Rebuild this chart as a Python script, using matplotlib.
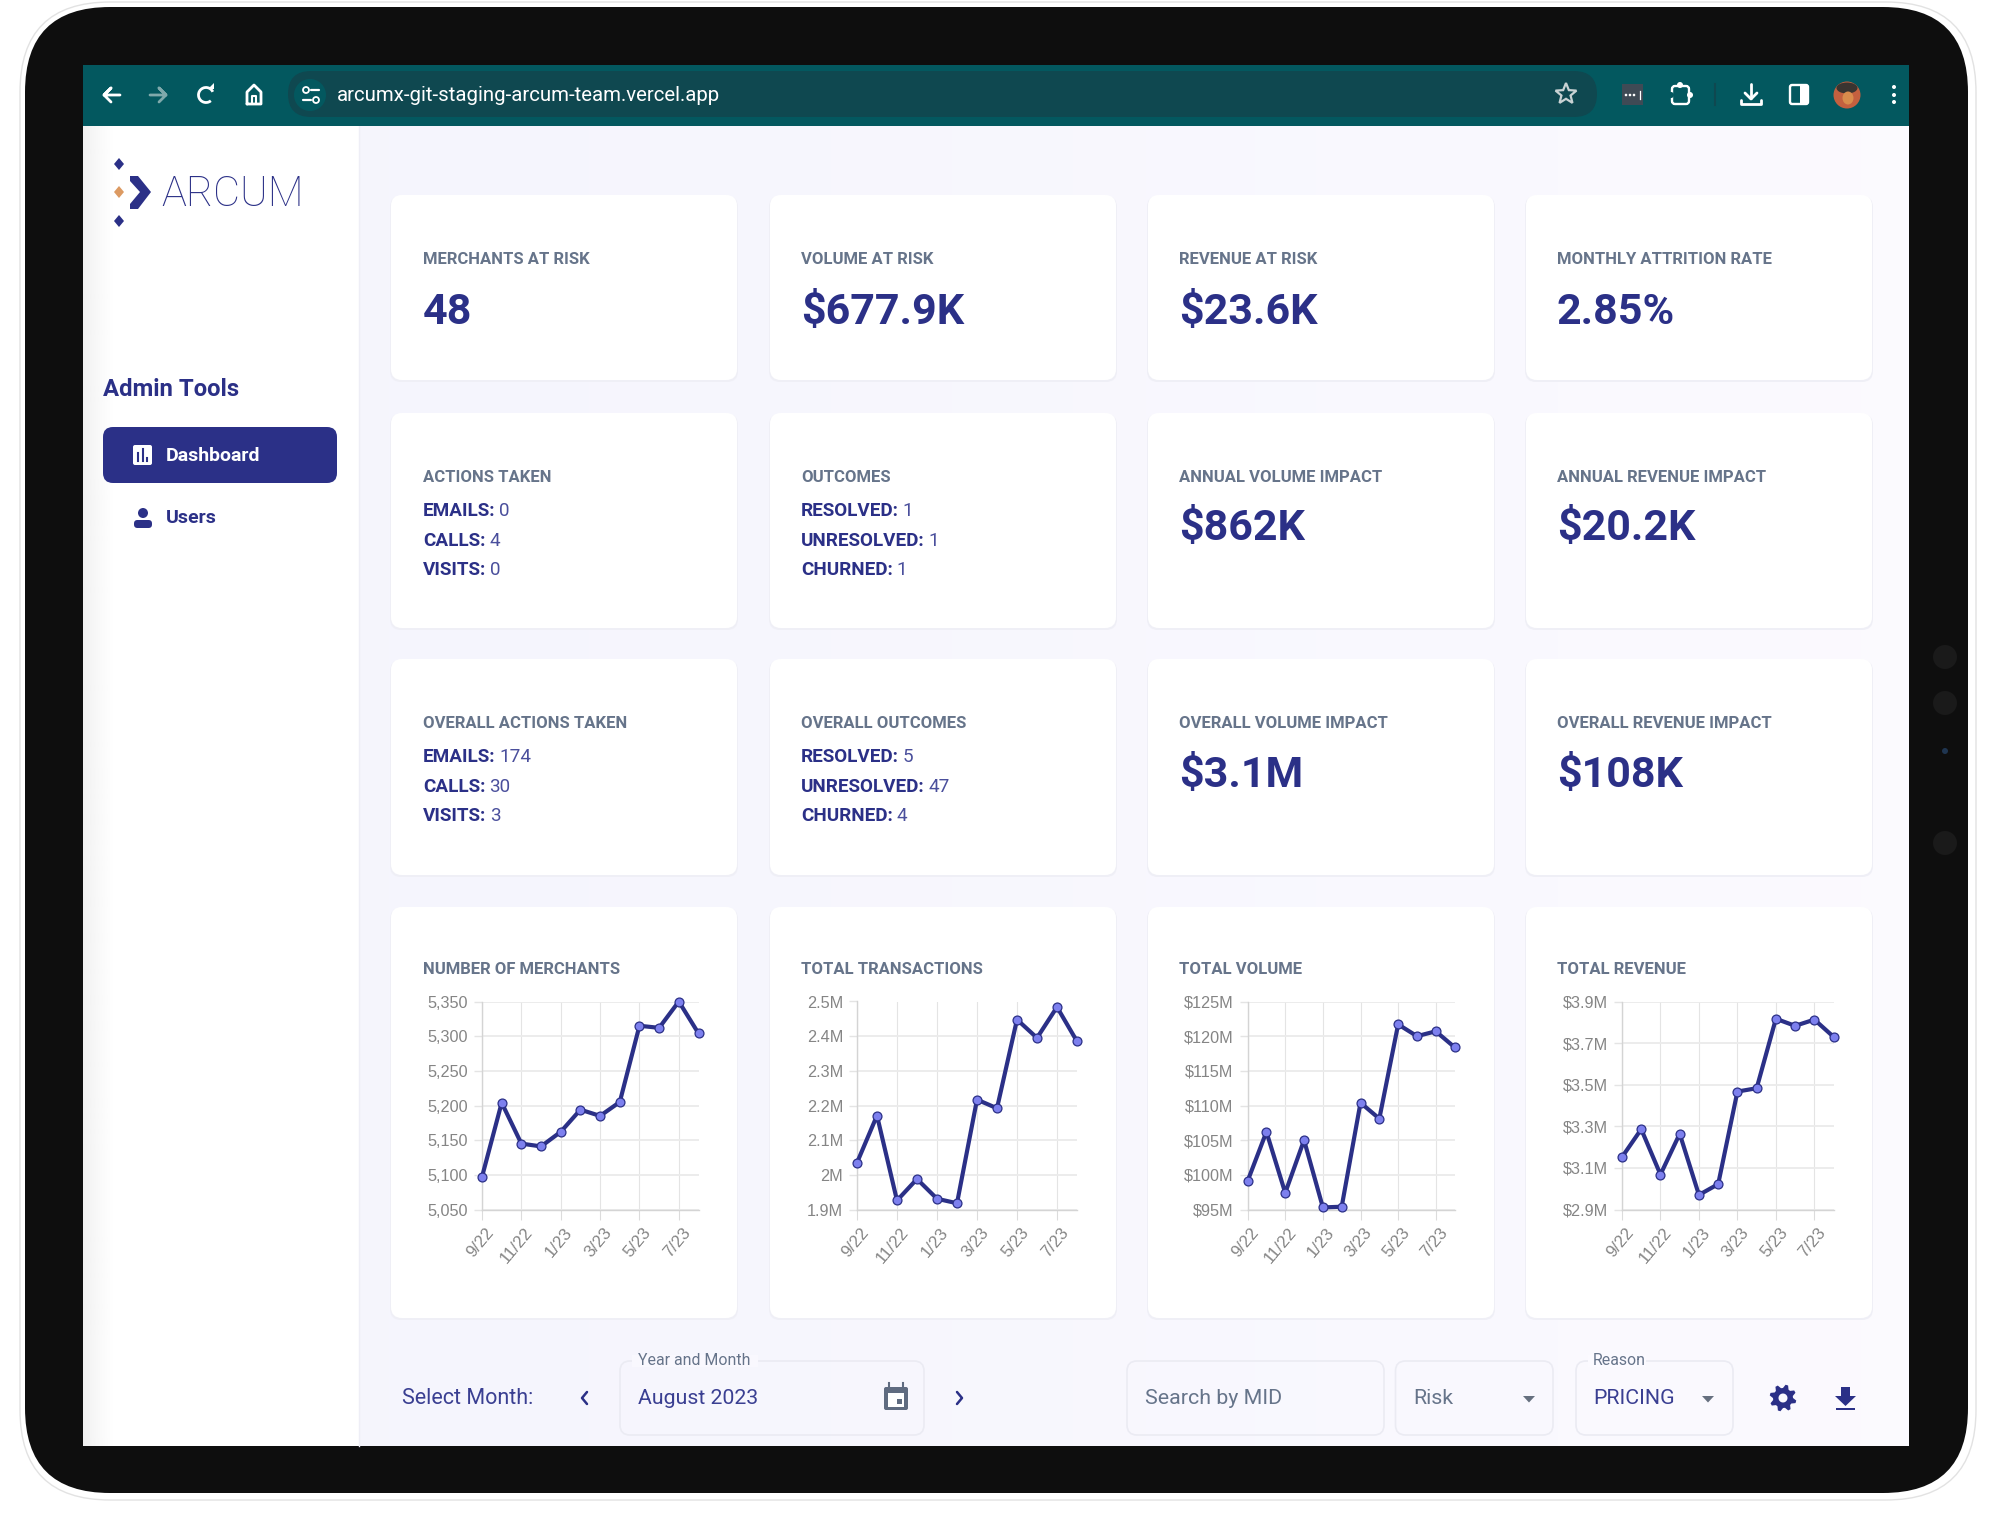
import numpy as np
import matplotlib
matplotlib.use('Agg')
import matplotlib.pyplot as plt
from matplotlib.patches import FancyBboxPatch, Polygon, Circle, Ellipse, Arc, Rectangle, PathPatch
from matplotlib.path import Path
from matplotlib.transforms import ScaledTranslation

# chart data
months = ['9/22', '10/22', '11/22', '12/22', '1/23', '2/23', '3/23', '4/23', '5/23', '6/23', '7/23', '8/23']
merchants = [5097, 5204, 5145, 5141, 5162, 5194, 5185, 5205, 5315, 5312, 5350, 5304]
transactions = [2.035, 2.171, 1.926, 1.988, 1.931, 1.918, 2.217, 2.192, 2.448, 2.395, 2.484, 2.385]
volume = [99.1, 106.2, 97.4, 105.0, 95.3, 95.4, 110.4, 108.1, 121.7, 120.0, 120.7, 118.4]
revenue = [3.152, 3.286, 3.068, 3.264, 2.97, 3.022, 3.467, 3.483, 3.817, 3.783, 3.813, 3.73]

merchant_ticks = [5050, 5100, 5150, 5200, 5250, 5300, 5350]
merchant_labels = ['5,050', '5,100', '5,150', '5,200', '5,250', '5,300', '5,350']
transaction_ticks = [1.9, 2.0, 2.1, 2.2, 2.3, 2.4, 2.5]
transaction_labels = ['1.9M', '2M', '2.1M', '2.2M', '2.3M', '2.4M', '2.5M']
volume_ticks = [95, 100, 105, 110, 115, 120, 125]
volume_labels = ['$95M', '$100M', '$105M', '$110M', '$115M', '$120M', '$125M']
revenue_ticks = [2.9, 3.1, 3.3, 3.5, 3.7, 3.9]
revenue_labels = ['$2.9M', '$3.1M', '$3.3M', '$3.5M', '$3.7M', '$3.9M']

chart_titles = ['NUMBER OF MERCHANTS', 'TOTAL TRANSACTIONS', 'TOTAL VOLUME', 'TOTAL REVENUE']
top_labels = ['MERCHANTS AT RISK', 'VOLUME AT RISK', 'REVENUE AT RISK', 'MONTHLY ATTRITION RATE']
top_values = ['48', '$677.9K', '$23.6K', '2.85%']
actions = [('EMAILS:', '0'), ('CALLS:', '4'), ('VISITS:', '0')]
outcomes = [('RESOLVED:', '1'), ('UNRESOLVED:', '1'), ('CHURNED:', '1')]
overall_actions = [('EMAILS:', '174'), ('CALLS:', '30'), ('VISITS:', '3')]
overall_outcomes = [('RESOLVED:', '5'), ('UNRESOLVED:', '47'), ('CHURNED:', '4')]

W, H = 2000, 1522
NAVY = '#2b3087'
SLATE = '#66748a'
GRAY = '#858585'
TEAL = '#03585f'

plt.rcParams['font.family'] = ['Roboto', 'DejaVu Sans']
fig = plt.figure(figsize=(W / 100, H / 100), dpi=100, facecolor='white')
bg = fig.add_axes([0, 0, 1, 1], zorder=0)
bg.axis('off')


def rbox(x0, y0, x1, y1, r, **kw):
    kw.setdefault('linewidth', 0)
    p = FancyBboxPatch((x0 + r, y0 + r), x1 - x0 - 2 * r, y1 - y0 - 2 * r,
                       boxstyle=f'round,pad={r},rounding_size={r}', **kw)
    bg.add_patch(p)
    return p


def label(x, y, s, size, color, weight='normal', ha='left', **kw):
    return bg.text(x, y, s, fontsize=size, color=color, fontweight=weight, ha=ha, va='center', **kw)


def stroke(xs, ys, color='white', lw=2.0, **kw):
    bg.plot(xs, ys, color=color, lw=lw, solid_capstyle='round', solid_joinstyle='round', **kw)


# device body
rbox(20, 2, 1976, 1500, 90, facecolor='white', edgecolor='#e2e2e2', linewidth=1.0)
rbox(25, 7, 1968, 1493, 85, facecolor='#0e0e0e')
for cy in [657, 703, 843]:
    bg.add_patch(Circle((1945, cy), 12, facecolor='#1a1a1a'))
bg.add_patch(Circle((1945, 751), 3, facecolor='#1f3550'))

# page background, slightly lighter to the right
grad = np.linspace(0, 1, 256).reshape(1, -1)
page = np.ones((1, 256, 3))
page[0, :, 0] = 0.961 + 0.025 * grad[0]
page[0, :, 1] = 0.961 + 0.020 * grad[0]
page[0, :, 2] = 0.992 + 0.008 * grad[0]
bg.imshow(page, extent=(359, 1909, 1446, 126), aspect='auto', zorder=1)
bg.add_patch(Rectangle((83, 126), 276, 1320, facecolor='white', zorder=1))
shade = np.ones((1, 64, 4))
shade[0, :, :3] = 0.6
shade[0, :, 3] = np.linspace(0.22, 0, 64) ** 1.3
bg.imshow(shade, extent=(83, 115, 1446, 126), aspect='auto', zorder=1.1)
bg.plot([359, 359], [126, 1446], color='#eeeef6', lw=1, zorder=1.2)

# browser toolbar
bg.add_patch(Rectangle((83, 65), 1826, 61, facecolor=TEAL, zorder=1.5))
rbox(288, 71, 1597, 117, 23, facecolor='#0f4850', zorder=1.6)
label(337, 95.5, 'arcumx-git-staging-arcum-team.vercel.app', 14.65, 'white', zorder=3)
z = {'zorder': 3}
stroke([120, 104, 111, 104, 111], [95, 95, 88, 95, 102], **z)
stroke([150, 166, 159, 166, 159], [95, 95, 88, 95, 102], color='#7fa9ab', **z)
bg.add_patch(Arc((206, 95), 15, 15, theta1=-310, theta2=-25, color='white', lw=2, zorder=3))
bg.add_patch(Polygon([[208, 89], [214, 89], [214, 83]], facecolor='white', zorder=3))
stroke([247, 247, 254, 261, 261, 247], [104, 92, 85, 92, 104, 104], **z)
stroke([252, 252, 256, 256], [104, 96, 96, 104], lw=1.5, **z)
bg.add_patch(Circle((310, 95), 16, facecolor='#03585f', zorder=2))
stroke([311, 319], [90, 90], lw=1.6, **z)
stroke([303, 311], [100, 100], lw=1.6, **z)
bg.add_patch(Circle((306, 90), 3, facecolor='none', edgecolor='white', lw=1.3, zorder=3))
bg.add_patch(Circle((316, 100), 3, facecolor='none', edgecolor='white', lw=1.3, zorder=3))
ang = np.deg2rad(np.arange(90, 450, 36))
rad = np.tile([11, 4.8], 5)
bg.add_patch(Polygon(np.c_[1566 + rad * np.cos(ang), 94 - rad * np.sin(ang)], facecolor='none',
                     edgecolor='#c8d2d3', lw=1.6, zorder=3))
bg.add_patch(Rectangle((1622, 84), 21, 21, facecolor='#3f4a55', zorder=3))
for dx in [1626, 1630, 1634]:
    bg.add_patch(Circle((dx, 95), 1.3, facecolor='white', zorder=4))
bg.plot([1639.5, 1639.5], [91, 99], color='white', lw=0.9, zorder=4)
# puzzle piece
rbox(1672, 86, 1689, 104, 3, facecolor='none', edgecolor='white', linewidth=1.7, zorder=3)
bg.add_patch(Circle((1680, 85), 3, facecolor='white', zorder=3))
bg.add_patch(Circle((1690, 95), 3, facecolor='white', zorder=3))
bg.add_patch(Circle((1671, 95), 3, facecolor=TEAL, zorder=3.1))
bg.plot([1715, 1715], [84, 105], color='#0f4850', lw=1.5, zorder=3)
stroke([1751, 1751], [84, 98], **z)
stroke([1745, 1751, 1757], [93, 99, 93], **z)
stroke([1741, 1741, 1761, 1761], [100, 104, 104, 100], **z)
rbox(1790, 85, 1808, 104, 2, facecolor='#03585f', edgecolor='white', linewidth=1.7, zorder=3)
bg.add_patch(Rectangle((1800, 85), 8, 19, facecolor='white', zorder=3))
bg.add_patch(Ellipse((1847, 95), 27, 27, facecolor='#c4603f', zorder=3))
bg.add_patch(Ellipse((1847, 88), 21, 11, facecolor='#3a3430', zorder=3))
bg.add_patch(Ellipse((1848, 98), 11, 13, facecolor='#d98c4c', zorder=3))
for cy in [87, 95, 102]:
    bg.add_patch(Circle((1894, cy), 2, facecolor='white', zorder=3))

# sidebar logo
for cy, col in [(164, NAVY), (192, '#dc9a62'), (221, NAVY)]:
    bg.add_patch(Polygon([[119, cy - 6], [124, cy], [119, cy + 6], [114, cy]], facecolor=col, zorder=3))
bg.add_patch(Polygon([[130, 176], [138, 176], [151, 192], [138, 209], [130, 209], [130, 204], [140, 192], [130, 181]],
                     facecolor=NAVY, zorder=3))
label(233, 194.5, 'ARCUM', 30, NAVY, weight='light', ha='center', family=['Roboto'], zorder=3)

# sidebar menu
label(103, 389.5, 'Admin Tools', 17.2, NAVY, weight='bold', zorder=3)
rbox(103, 427, 337, 483, 10, facecolor=NAVY, zorder=2)
rbox(133, 445, 152, 465, 2, facecolor='white', zorder=3)
for bx, by in [(138, 453), (142.5, 449), (147, 458)]:
    bg.plot([bx, bx], [by, 461], color=NAVY, lw=1.5, zorder=4)
label(166, 456, 'Dashboard', 14, 'white', weight='bold', zorder=3)
bg.add_patch(Circle((143, 513), 5, facecolor=NAVY, zorder=3))
rbox(134, 520, 152, 528, 3.5, facecolor=NAVY, zorder=3)
label(166, 518, 'Users', 14, NAVY, weight='bold', zorder=3)

# cards
card_x = [391, 770, 1148, 1526]
text_x = [423, 801, 1179, 1557]
card_w = 346
rows = [(195, 380), (413, 628), (659, 875), (907, 1318)]
for y0, y1 in rows:
    for x0 in card_x:
        rbox(x0 - 1, y0 + 1, x0 + card_w + 1, y1 + 2, 11, facecolor='#efeff6', zorder=1.8)
        rbox(x0, y0, x0 + card_w, y1, 11, facecolor='white', zorder=2)

for x0, lab, val in zip(text_x, top_labels, top_values):
    label(x0, 260, lab, 12.0, SLATE, weight='bold', zorder=3)
    label(x0, 313, val, 31, NAVY, weight='bold', zorder=3)

renderer = fig.canvas.get_renderer()


def stat_lines(x, ys, pairs):
    for y, (name, num) in zip(ys, pairs):
        t = label(x, y, name, 13.6, NAVY, weight='bold', zorder=3)
        # value starts just after the bold part
        w = t.get_window_extent(renderer).width
        label(x + w + 4, y, num, 13.6, '#4a4f9c', zorder=3)


label(text_x[0], 478, 'ACTIONS TAKEN', 12.0, SLATE, weight='bold', zorder=3)
stat_lines(text_x[0], [511.5, 541, 570], actions)
label(text_x[1], 478, 'OUTCOMES', 12.0, SLATE, weight='bold', zorder=3)
stat_lines(text_x[1], [511.5, 541, 570], outcomes)
label(text_x[2], 478, 'ANNUAL VOLUME IMPACT', 12.0, SLATE, weight='bold', zorder=3)
label(text_x[2], 529, '$862K', 31, NAVY, weight='bold', zorder=3)
label(text_x[3], 478, 'ANNUAL REVENUE IMPACT', 12.0, SLATE, weight='bold', zorder=3)
label(text_x[3], 529, '$20.2K', 31, NAVY, weight='bold', zorder=3)

label(text_x[0], 724, 'OVERALL ACTIONS TAKEN', 12.0, SLATE, weight='bold', zorder=3)
stat_lines(text_x[0], [757.5, 787, 816], overall_actions)
label(text_x[1], 724, 'OVERALL OUTCOMES', 12.0, SLATE, weight='bold', zorder=3)
stat_lines(text_x[1], [757.5, 787, 816], overall_outcomes)
label(text_x[2], 724, 'OVERALL VOLUME IMPACT', 12.0, SLATE, weight='bold', zorder=3)
label(text_x[2], 775.5, '$3.1M', 31, NAVY, weight='bold', zorder=3)
label(text_x[3], 724, 'OVERALL REVENUE IMPACT', 12.0, SLATE, weight='bold', zorder=3)
label(text_x[3], 775.5, '$108K', 31, NAVY, weight='bold', zorder=3)

for x0, title in zip(text_x, chart_titles):
    label(x0, 970, title, 12.0, SLATE, weight='bold', zorder=3)


def line_chart(left, right, values, ticks, tick_labels):
    top, bottom = 1001.5, 1209.5
    ax = fig.add_axes([left / W, 1 - bottom / H, (right - left) / W, (bottom - top) / H], zorder=5)
    ax.patch.set_alpha(0)
    x = np.arange(len(values))
    ax.plot(x, values, color=NAVY, lw=3.0, marker='o', ms=6.4, mfc='#7d80ee', mec=NAVY, mew=0.9,
            clip_on=False, zorder=5)
    ax.set_xlim(0, len(values) - 1)
    ax.set_ylim(ticks[0], ticks[-1])
    ax.set_yticks(ticks)
    ax.set_yticklabels(tick_labels, family=['Liberation Sans'], fontsize=11.7, color=GRAY)
    ax.set_xticks(x[::2])
    ax.set_xticklabels(months[::2], family=['Liberation Sans'], fontsize=12.2, color=GRAY,
                       rotation=50, ha='right', rotation_mode='anchor', va='top')
    ax.grid(axis='y', color='#ebebeb', lw=1.3)
    ax.grid(axis='x', color='#e4e4e4', lw=0.8)
    ax.set_axisbelow(True)
    ax.tick_params(axis='y', length=6, width=1, color='#e4e4e4', pad=4)
    ax.tick_params(axis='x', length=7, width=0.8, color='#dcdcdc', pad=4)
    # shift rotated month labels so their top right corner sits past the tick
    shift = ScaledTranslation(3 / 100, 0, fig.dpi_scale_trans)
    for t in ax.get_xticklabels():
        t.set_transform(t.get_transform() + shift)
    for side in ['top', 'right']:
        ax.spines[side].set_visible(False)
    for side in ['left', 'bottom']:
        ax.spines[side].set_color('#d4d4d4')
        ax.spines[side].set_linewidth(1.0)


line_chart(482, 698.5, merchants, merchant_ticks, merchant_labels)
line_chart(857, 1077, transactions, transaction_ticks, transaction_labels)
line_chart(1247.6, 1454.6, volume, volume_ticks, volume_labels)
line_chart(1622, 1833.6, revenue, revenue_ticks, revenue_labels)

# bottom filter bar
BORDER = '#ebebf3'
BLUE_TEXT = '#3a3f92'
label(402, 1398, 'Select Month:', 15.5, BLUE_TEXT, zorder=3)
stroke([587, 582, 587], [1392, 1398, 1404], color=NAVY, lw=1.8, zorder=3)
stroke([957, 962, 957], [1392, 1398, 1404], color=NAVY, lw=1.8, zorder=3)
rbox(620, 1361, 924, 1435, 10, facecolor='none', edgecolor=BORDER, linewidth=1.2, zorder=2)
bg.add_patch(Rectangle((632, 1355), 126, 12, facecolor='#f9f8fe', zorder=2.5))
label(638, 1360.5, 'Year and Month', 11.4, SLATE, zorder=3)
label(638, 1398, 'August 2023', 15.3, BLUE_TEXT, zorder=3)
rbox(884, 1387, 908, 1410, 2, facecolor='#5f6b80', zorder=3)
bg.add_patch(Rectangle((888, 1393), 16, 14, facecolor='white', zorder=3.1))
bg.add_patch(Rectangle((897, 1399), 5, 5, facecolor='#5f6b80', zorder=3.2))
bg.plot([889, 889], [1383, 1388], color='#5f6b80', lw=1.5, zorder=3)
bg.plot([903, 903], [1383, 1388], color='#5f6b80', lw=1.5, zorder=3)

rbox(1127, 1361, 1384, 1435, 10, facecolor='none', edgecolor=BORDER, linewidth=1.2, zorder=2)
label(1145, 1398, 'Search by MID', 15.4, SLATE, zorder=3)
rbox(1395.5, 1361, 1553, 1435, 10, facecolor='none', edgecolor=BORDER, linewidth=1.2, zorder=2)
label(1413, 1398, 'Risk', 15.4, SLATE, zorder=3)
bg.add_patch(Polygon([[1523, 1396], [1535, 1396], [1529, 1402.5]], facecolor='#66707f', zorder=3))
rbox(1576, 1361, 1733, 1435, 10, facecolor='none', edgecolor=BORDER, linewidth=1.2, zorder=2)
bg.add_patch(Rectangle((1588, 1355), 58, 12, facecolor='#fbfaff', zorder=2.5))
label(1593, 1360.5, 'Reason', 11.4, SLATE, zorder=3)
label(1593, 1398, 'PRICING', 15.4, BLUE_TEXT, zorder=3)
bg.add_patch(Polygon([[1702, 1396], [1714, 1396], [1708, 1402.5]], facecolor='#66707f', zorder=3))

# settings gear and download icons
n = 8
gear_a = np.deg2rad(np.linspace(0, 360, n * 4, endpoint=False) + 11)
gear_r = np.tile([13.5, 13.5, 10, 10], n)
theta = np.linspace(0, 2 * np.pi, 40)
verts = np.r_[np.c_[1783 + gear_r * np.cos(gear_a), 1398 + gear_r * np.sin(gear_a)], [[0, 0]],
              np.c_[1783 + 4.5 * np.cos(theta), 1398 - 4.5 * np.sin(theta)], [[0, 0]]]
codes = [Path.MOVETO] + [Path.LINETO] * (n * 4 - 1) + [Path.CLOSEPOLY] + [Path.MOVETO] + [Path.LINETO] * 39 + [Path.CLOSEPOLY]
bg.add_patch(PathPatch(Path(verts, codes), facecolor=NAVY, linewidth=0, zorder=3))
bg.add_patch(Polygon([[1841, 1387], [1850, 1387], [1850, 1396], [1856, 1396], [1845.5, 1406], [1835, 1396], [1841, 1396]],
                     facecolor=NAVY, zorder=3))
bg.add_patch(Rectangle((1836, 1407.5), 19, 2.5, facecolor=NAVY, zorder=3))

bg.set_xlim(0, W)
bg.set_ylim(H, 0)
fig.savefig('out.png', dpi=100)
